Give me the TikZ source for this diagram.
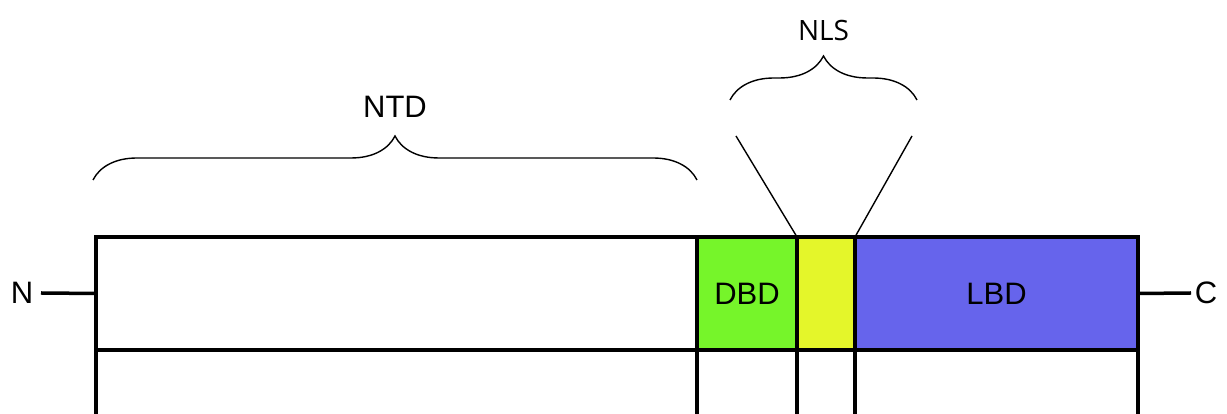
\documentclass[tikz,border=0pt]{standalone}
\usepackage{fontspec}
\setmainfont{Liberation Sans}
\newfontfamily\nlsfont{Open Sans}
\usetikzlibrary{positioning, decorations.pathreplacing}

\definecolor{dbdgreen}{RGB}{118,245,42}
\definecolor{nlsyellow}{RGB}{228,246,42}
\definecolor{lbdblue}{RGB}{102,100,236}

\tikzset{
  seg/.style={draw, line width=3.5pt, minimum height=113pt, inner sep=0pt, outer sep=0pt, anchor=south west, font=\fontsize{31}{36}\selectfont},
  lbl/.style={font=\fontsize{31}{36}\selectfont, inner sep=0pt},
  bracket/.style={decorate, decoration={brace, amplitude=44pt}, line width=1.4pt}
}

\begin{document}
\begin{tikzpicture}[x=1pt, y=1pt]
\useasboundingbox (0,0) rectangle (1227,414);

% protein domains
\node[seg, minimum width=601pt] (ntd) at (96,64) {};
\node[seg, fill=dbdgreen, minimum width=100pt] (dbd) at (697,64) {DBD};
\node[seg, fill=nlsyellow, minimum width=58pt] (nls) at (797,64) {};
\node[seg, fill=lbdblue, minimum width=283pt] (lbd) at (855,64) {LBD};

% lines going down
\foreach \a in {ntd.south west, dbd.south west, nls.south west, lbd.south west, lbd.south east}
  \draw[line width=3.5pt] (\a) -- ++(0,-70);

% termini
\node[lbl] (N) at (22,121) {N};
\node[lbl] (C) at (1206,121) {C};
\coordinate (nend) at (41,121);
\coordinate (cend) at (1191,121);
\draw[line width=3.5pt] (nend) -- (ntd.west);
\draw[line width=3.5pt] (lbd.east) -- (cend);

% braces
\draw[bracket] (93,234) -- (697,234) node[midway, above=62pt, lbl] (ntdlbl) {NTD};
\draw[bracket] (730,314) -- (917,314) node[midway, above=59pt, lbl, font=\nlsfont\fontsize{28}{32}\selectfont] (nlslbl) {NLS};

\coordinate (nlsl) at (736,278);
\coordinate (nlsr) at (912,278);
\draw[line width=1.4pt] (nlsl) -- (nls.north west);
\draw[line width=1.4pt] (nlsr) -- (nls.north east);

\end{tikzpicture}
\end{document}
